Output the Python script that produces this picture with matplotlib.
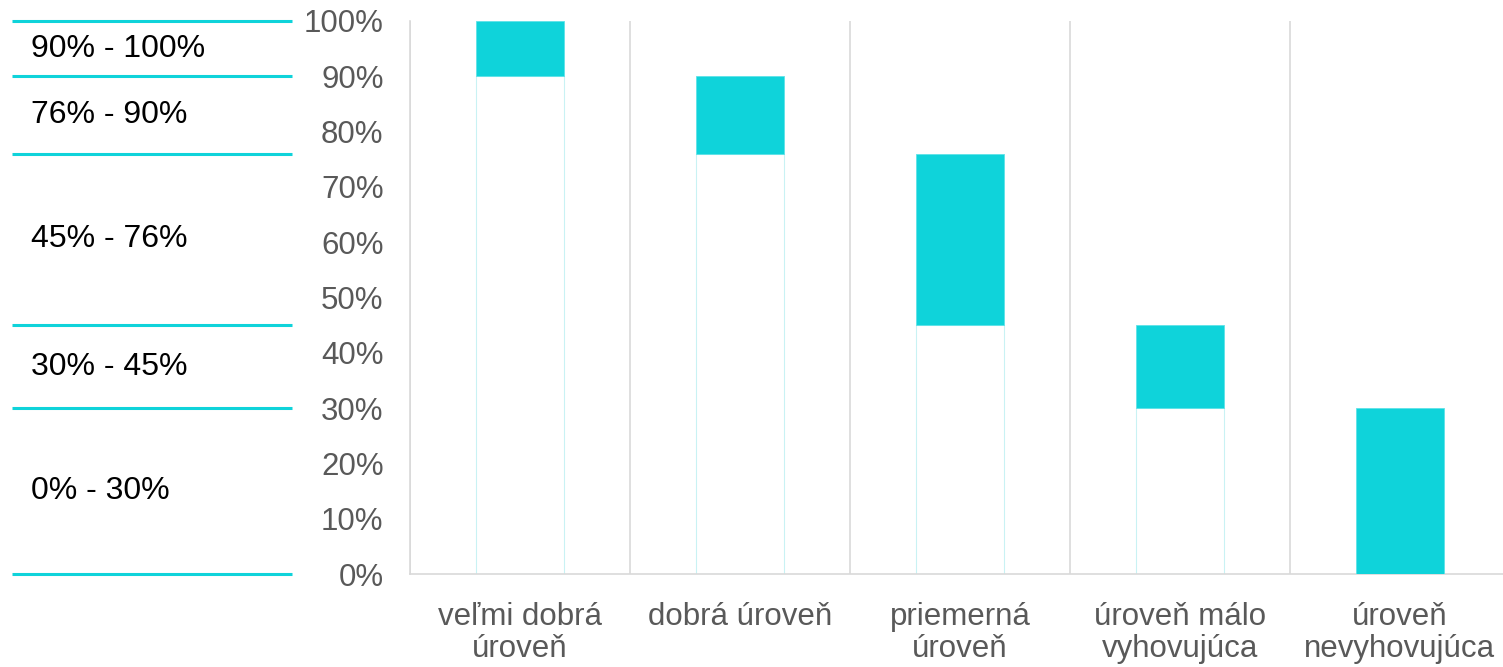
import matplotlib.pyplot as plt
import matplotlib.transforms as mtransforms
import numpy as np

plt.rcParams['font.family'] = ['Liberation Sans', 'DejaVu Sans']

# data
categories = ["veľmi dobrá\núroveň", "dobrá úroveň", "priemerná\núroveň",
              "úroveň málo\nvyhovujúca", "úroveň\nnevyhovujúca"]
low = [90, 76, 45, 30, 0]
high = [100, 90, 76, 45, 30]
band_labels = ["90% - 100%", "76% - 90%", "45% - 76%", "30% - 45%", "0% - 30%"]
band_edges = [100, 90, 76, 45, 30, 0]

cyan = '#0fd3da'
grid = '#d9d9d9'
tick_col = '#595959'

W, H = 1503, 667
fig = plt.figure(figsize=(W / 100, H / 100), dpi=100)
ax = fig.add_axes([410 / W, 1 - 574 / H, 1100 / W, 553 / H])

x = np.arange(len(categories))
span = np.array(high) - np.array(low)

# invisible base part of the floating bars
ax.bar(x, low, width=0.4, color='white', edgecolor='#c9f2f4', linewidth=0.8, zorder=2)
ax.bar(x, span, bottom=low, width=0.4, color=cyan, edgecolor='#5ee3e8', linewidth=0.6, zorder=3)

ax.set_xlim(-0.5, len(categories) - 0.5)
ax.set_ylim(0, 100)
ax.set_yticks(np.arange(0, 101, 10))
ax.set_yticklabels([f"{v}%" for v in range(0, 101, 10)])
ax.set_xticks(x)
ax.set_xticklabels(categories, linespacing=1.1)
ax.set_xticks(np.arange(-0.5, len(categories), 1), minor=True)
ax.grid(axis='x', which='minor', color=grid, linewidth=1.2)
ax.tick_params(axis='both', which='both', length=0, labelsize=22.5, colors=tick_col)
ax.tick_params(axis='y', pad=19)
ax.tick_params(axis='x', pad=20)

for s in ['top', 'right']:
    ax.spines[s].set_visible(False)
ax.spines['left'].set_color(grid)
ax.spines['bottom'].set_color(grid)
ax.spines['left'].set_linewidth(1.2)
ax.spines['bottom'].set_linewidth(1.2)

# left band legend
trans = mtransforms.blended_transform_factory(fig.transFigure, ax.transData)
for e in band_edges:
    ax.plot([12 / W, 292 / W], [e, e], transform=trans, color=cyan, linewidth=2.2,
            clip_on=False, solid_capstyle='butt')
for i, lab in enumerate(band_labels):
    ymid = (band_edges[i] + band_edges[i + 1]) / 2
    ax.text(31 / W, ymid, lab, transform=trans, fontsize=23, color='black',
            ha='left', va='center')

fig.savefig('out.png', dpi=100)
